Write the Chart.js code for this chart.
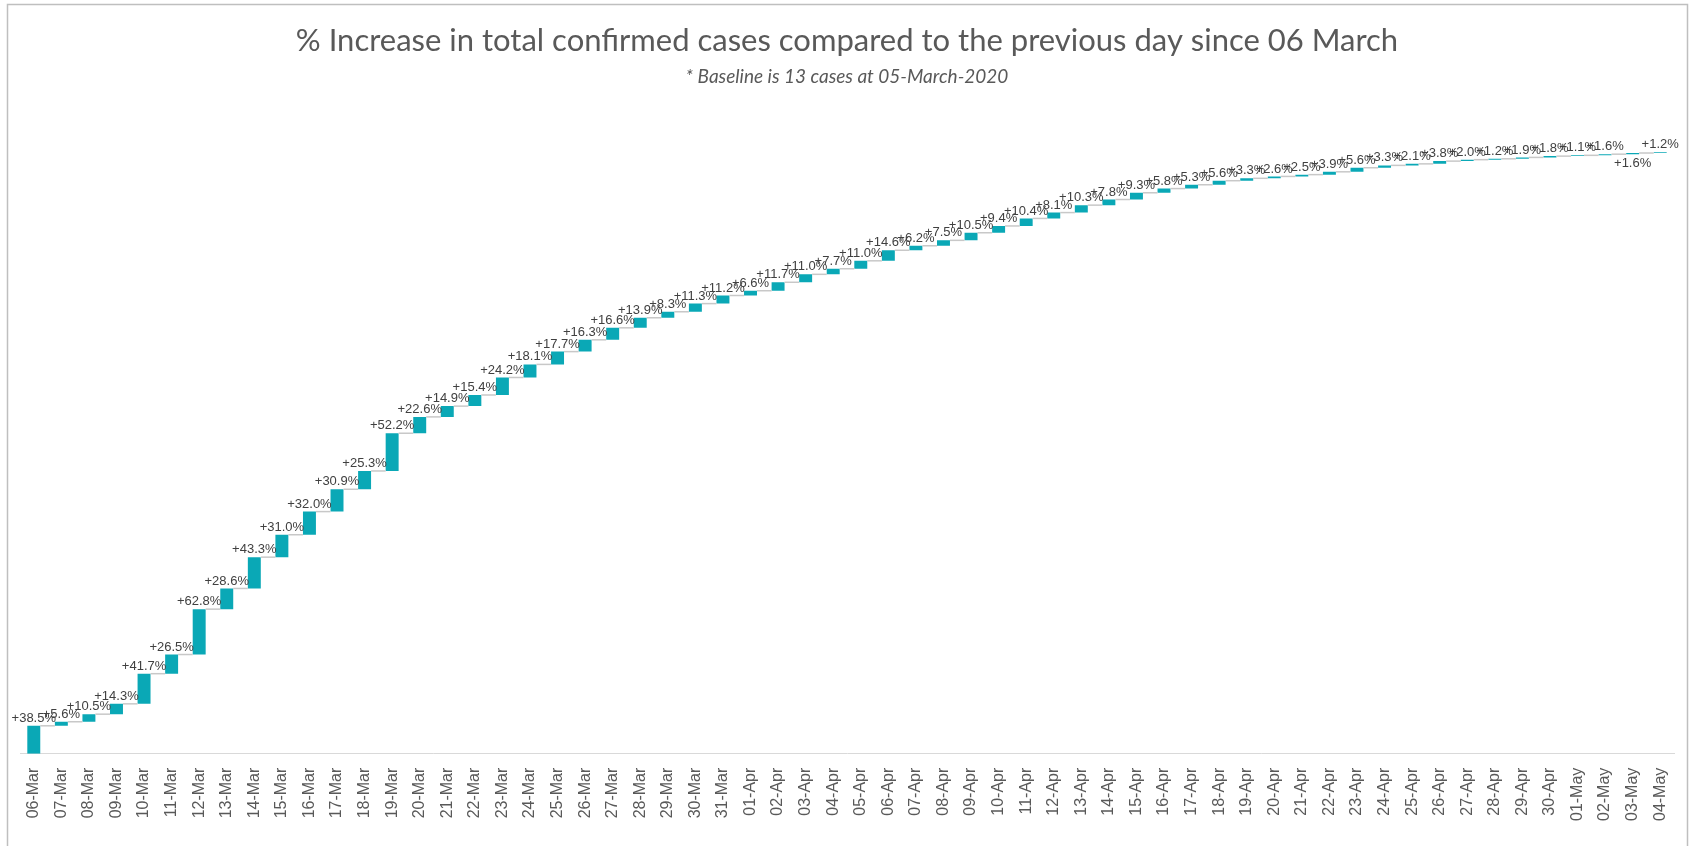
<!DOCTYPE html>
<html>
<head>
<meta charset="utf-8">
<script src="https://cdn.jsdelivr.net/npm/chart.js@4/dist/chart.umd.min.js"></script>
<style>
  html, body { margin: 0; padding: 0; background: #fff; }
  #wrap { width: 1694px; height: 846px; }
</style>
</head>
<body>
<div id="wrap"><canvas id="c"></canvas></div>
<script>
// Daily % increase of total confirmed cases since 06 March (baseline 13 cases on 05-Mar-2020).
const days = [
  '06-Mar','07-Mar','08-Mar','09-Mar','10-Mar','11-Mar','12-Mar','13-Mar','14-Mar','15-Mar',
  '16-Mar','17-Mar','18-Mar','19-Mar','20-Mar','21-Mar','22-Mar','23-Mar','24-Mar','25-Mar',
  '26-Mar','27-Mar','28-Mar','29-Mar','30-Mar','31-Mar','01-Apr','02-Apr','03-Apr','04-Apr',
  '05-Apr','06-Apr','07-Apr','08-Apr','09-Apr','10-Apr','11-Apr','12-Apr','13-Apr','14-Apr',
  '15-Apr','16-Apr','17-Apr','18-Apr','19-Apr','20-Apr','21-Apr','22-Apr','23-Apr','24-Apr',
  '25-Apr','26-Apr','27-Apr','28-Apr','29-Apr','30-Apr','01-May','02-May','03-May','04-May'
];

const pctIncrease = [
  38.5, 5.6, 10.5, 14.3, 41.7, 26.5, 62.8, 28.6, 43.3, 31.0,
  32.0, 30.9, 25.3, 52.2, 22.6, 14.9, 15.4, 24.2, 18.1, 17.7,
  16.3, 16.6, 13.9, 8.3, 11.3, 11.2, 6.6, 11.7, 11.0, 7.7,
  11.0, 14.6, 6.2, 7.5, 10.5, 9.4, 10.4, 8.1, 10.3, 7.8,
  9.3, 5.8, 5.3, 5.6, 3.3, 2.6, 2.5, 3.9, 5.6, 3.3,
  2.1, 3.8, 2.0, 1.2, 1.9, 1.8, 1.1, 1.6, 1.6, 1.2
];

// labels that sit under their bar instead of above it
const labelsBelow = ['03-May'];

// waterfall steps: each bar floats from the running sum to the new one
const steps = [];
let running = 0;
pctIncrease.forEach(p => {
  steps.push([running, running + p]);
  running += p;
});

const BAR = '#0AA8B6';
const TEXT = '#595959';

const framePlugin = {
  id: 'frame',
  beforeDraw(chart) {
    const ctx = chart.ctx;
    ctx.save();
    ctx.fillStyle = '#fff';
    ctx.fillRect(0, 0, chart.width, chart.height);
    ctx.strokeStyle = '#BFBFBF';
    ctx.lineWidth = 1.5;
    ctx.strokeRect(7.5, 4.5, 1680, 845);
    ctx.restore();
  }
};

const waterfallPlugin = {
  id: 'waterfall',
  afterDatasetsDraw(chart) {
    const ctx = chart.ctx;
    const bars = chart.getDatasetMeta(0).data;
    ctx.save();
    // connectors between consecutive bars
    ctx.strokeStyle = '#C8C8C8';
    ctx.lineWidth = 1.5;
    bars.forEach((b, i) => {
      if (i === bars.length - 1) return;
      const n = bars[i + 1];
      ctx.beginPath();
      ctx.moveTo(b.x + b.width / 2, b.y);
      ctx.lineTo(n.x - n.width / 2, b.y);
      ctx.stroke();
    });
    // value labels
    ctx.fillStyle = '#404040';
    ctx.font = '13px "Liberation Sans", Arial, sans-serif';
    ctx.textAlign = 'center';
    bars.forEach((b, i) => {
      const txt = '+' + pctIncrease[i].toFixed(1) + '%';
      if (labelsBelow.includes(days[i])) {
        ctx.textBaseline = 'top';
        ctx.fillText(txt, b.x, b.base + 3);
      } else {
        ctx.textBaseline = 'bottom';
        ctx.fillText(txt, b.x, b.y - 1);
      }
    });
    ctx.restore();
  }
};

new Chart(document.getElementById('c'), {
  type: 'bar',
  data: {
    labels: days,
    datasets: [{
      data: steps,
      backgroundColor: BAR,
      borderWidth: 0,
      categoryPercentage: 1,
      barPercentage: 0.47
    }]
  },
  options: {
    responsive: true,
    maintainAspectRatio: false,
    animation: false,
    layout: { padding: { left: 20, right: 20, top: 0, bottom: 11 } },
    plugins: {
      legend: { display: false },
      tooltip: { enabled: false },
      title: {
        display: true,
        text: '% Increase in total confirmed cases compared to the previous day since 06 March',
        color: TEXT,
        font: { family: 'Lato', size: 31, weight: 'normal' },
        padding: { top: 22, bottom: 6 }
      },
      subtitle: {
        display: true,
        text: '* Baseline is 13 cases at 05-March-2020',
        color: TEXT,
        font: { family: 'Lato', size: 19, style: 'italic' },
        padding: { top: 0, bottom: 28 }
      }
    },
    scales: {
      x: {
        grid: { display: true, drawOnChartArea: false, drawTicks: false },
        border: { display: true, color: '#D9D9D9', width: 1 },
        ticks: {
          color: TEXT,
          font: { family: '"Liberation Sans", Arial, sans-serif', size: 16 },
          minRotation: 90,
          maxRotation: 90,
          autoSkip: false,
          padding: 14
        }
      },
      y: {
        display: false,
        min: 0,
        max: 882
      }
    }
  },
  plugins: [framePlugin, waterfallPlugin]
});
</script>
</body>
</html>
